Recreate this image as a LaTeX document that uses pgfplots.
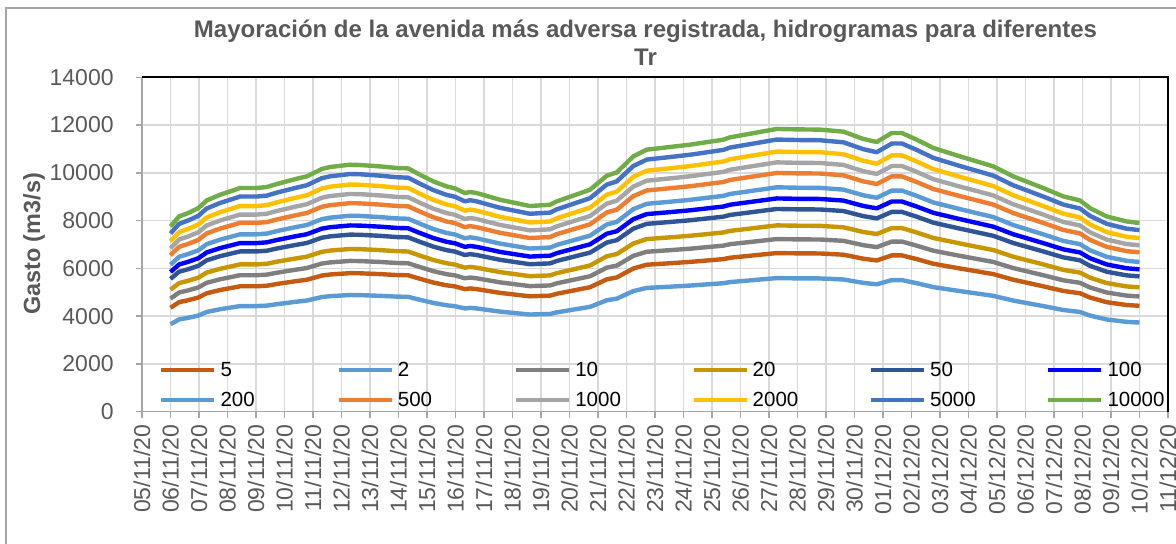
\documentclass[border=0pt]{standalone}
\usepackage{pgfplots}
\pgfplotsset{compat=1.18}
\usepackage{pgfplotstable}
\usepackage{fontspec}
\setmainfont{Liberation Sans}
\definecolor{c5}{RGB}{197,90,17}
\definecolor{c2}{RGB}{91,155,213}
\definecolor{c10}{RGB}{127,127,127}
\definecolor{c20}{RGB}{200,150,0}
\definecolor{c50}{RGB}{47,85,151}
\definecolor{c100}{RGB}{0,0,255}
\definecolor{c200}{RGB}{91,155,213}
\definecolor{c500}{RGB}{237,125,49}
\definecolor{c1000}{RGB}{165,165,165}
\definecolor{c2000}{RGB}{255,192,0}
\definecolor{c5000}{RGB}{68,114,196}
\definecolor{c10000}{RGB}{112,173,71}
\definecolor{txtgray}{RGB}{89,89,89}
\definecolor{gridgray}{RGB}{217,217,217}
\definecolor{axisgray}{RGB}{166,166,166}

\pgfplotstableread{
d T2 T5 T10 T20 T50 T100 T200 T500 T1000 T2000 T5000 T10000
1.00 3660 4347 4731 5106 5557 5846 6150 6545 6834 7130 7460 7753
1.30 3858 4582 4987 5382 5857 6162 6482 6899 7204 7516 7863 8172
1.62 3928 4665 5077 5480 5963 6273 6600 7024 7334 7652 8005 8315
1.98 4022 4777 5199 5611 6106 6424 6758 7193 7510 7836 8198 8524
2.27 4173 4957 5394 5822 6336 6665 7012 7463 7793 8130 8506 8843
2.74 4287 5091 5541 5980 6508 6846 7202 7665 8004 8351 8737 9082
3.09 4353 5170 5626 6072 6608 6952 7313 7784 8127 8480 8871 9220
3.44 4419 5248 5712 6165 6708 7057 7424 7902 8251 8608 9006 9363
4.02 4419 5248 5712 6165 6708 7057 7424 7902 8251 8608 9006 9363
4.38 4438 5271 5736 6191 6737 7088 7456 7936 8286 8645 9045 9405
4.73 4499 5344 5815 6277 6830 7186 7559 8045 8401 8765 9170 9531
5.43 4603 5467 5949 6421 6988 7352 7734 8231 8595 8967 9381 9753
5.78 4650 5523 6011 6487 7060 7427 7813 8315 8683 9059 9478 9849
6.31 4797 5697 6200 6691 7282 7661 8059 8577 8956 9344 9776 10160
6.60 4834 5742 6248 6744 7339 7721 8122 8645 9027 9418 9853 10244
7.30 4882 5798 6310 6810 7411 7796 8202 8729 9115 9510 9949 10340
7.65 4877 5792 6303 6803 7404 7789 8194 8721 9106 9501 9940 10327
8.35 4848 5758 6267 6764 7361 7744 8146 8670 9053 9445 9882 10269
8.94 4815 5719 6224 6718 7310 7691 8091 8611 8991 9381 9814 10202
9.34 4806 5708 6212 6705 7296 7676 8075 8594 8974 9363 9795 10185
9.75 4683 5562 6053 6533 7110 7480 7869 8375 8745 9123 9545 9921
10.22 4551 5405 5882 6349 6909 7269 7646 8138 8498 8866 9276 9640
10.69 4452 5287 5754 6211 6759 7110 7480 7961 8313 8673 9074 9430
10.98 4414 5243 5705 6158 6701 7050 7417 7893 8242 8599 8997 9346
11.33 4320 5130 5583 6026 6558 6899 7258 7724 8066 8415 8804 9153
11.51 4343 5158 5614 6059 6594 6937 7297 7767 8110 8461 8852 9195
11.74 4320 5130 5583 6026 6558 6899 7258 7724 8066 8415 8804 9153
12.56 4188 4973 5413 5842 6357 6688 7036 7488 7819 8158 8535 8873
13.61 4065 4828 5254 5671 6171 6492 6829 7269 7590 7919 8285 8608
14.32 4088 4856 5284 5704 6207 6530 6869 7311 7634 7965 8333 8663
14.55 4155 4934 5370 5796 6307 6635 6980 7429 7757 8093 8467 8801
15.72 4386 5209 5669 6118 6658 7005 7369 7843 8189 8544 8939 9292
16.31 4664 5540 6029 6507 7081 7450 7837 8341 8709 9087 9507 9879
16.66 4730 5618 6114 6599 7181 7555 7948 8459 8833 9215 9641 10017
17.24 5047 5994 6523 7041 7662 8060 8479 9025 9423 9832 10286 10688
17.71 5179 6151 6694 7225 7862 8271 8701 9261 9670 10089 10555 10969
18.53 5231 6213 6761 7297 7941 8354 8789 9354 9767 10190 10661 11082
19.23 5278 6269 6822 7363 8013 8430 8868 9438 9855 10282 10757 11179
20.40 5377 6386 6950 7502 8163 8588 9035 9616 10040 10475 10960 11388
20.63 5424 6443 7011 7567 8235 8664 9114 9700 10128 10567 11056 11485
21.80 5543 6583 7164 7732 8414 8852 9312 9911 10349 10797 11296 11736
22.27 5590 6639 7225 7798 8486 8927 9392 9995 10437 10889 11393 11837
22.97 5580 6628 7213 7785 8471 8912 9376 9979 10419 10871 11373 11820
23.79 5576 6622 7207 7778 8464 8905 9368 9970 10411 10862 11364 11808
24.61 5533 6571 7152 7719 8400 8837 9296 9894 10331 10779 11277 11724
25.31 5391 6403 6969 7521 8185 8611 9058 9641 10067 10503 10988 11418
25.78 5330 6330 6889 7436 8092 8513 8955 9531 9952 10383 10863 11292
26.31 5509 6543 7121 7686 8364 8799 9257 9852 10287 10733 11229 11669
26.66 5509 6543 7121 7686 8364 8799 9257 9852 10287 10733 11229 11669
27.18 5377 6386 6950 7502 8163 8588 9035 9616 10040 10475 10960 11388
27.77 5212 6190 6737 7271 7912 8324 8757 9320 9732 10154 10623 11040
28.70 5047 5994 6523 7041 7662 8060 8479 9025 9423 9832 10286 10688
29.87 4848 5758 6267 6764 7361 7744 8146 8670 9053 9445 9882 10269
30.57 4650 5523 6011 6487 7060 7427 7813 8315 8683 9059 9478 9849
31.62 4419 5248 5712 6165 6708 7057 7424 7902 8251 8608 9006 9363
32.33 4254 5052 5498 5934 6458 6794 7147 7606 7942 8287 8669 9011
32.91 4173 4957 5394 5822 6336 6665 7012 7463 7793 8130 8506 8843
33.26 4022 4777 5199 5611 6106 6424 6758 7193 7510 7836 8198 8524
33.85 3858 4582 4987 5382 5857 6162 6482 6899 7204 7516 7863 8172
34.55 3758 4463 4857 5242 5705 6002 6314 6720 7017 7321 7659 7963
35.00 3730 4430 4821 5203 5662 5957 6266 6669 6964 7266 7601 7896
}\datatable

\begin{document}
\begin{tikzpicture}
\useasboundingbox (0,0) rectangle (588pt,-272pt);
\draw[color=axisgray, line width=0.7pt] (3pt,-272pt) -- (3pt,-4pt) -- (588pt,-4pt);
\begin{axis}[
  scale only axis, width=513pt, height=167.15pt,
  at={(71pt,-205.8pt)}, anchor=south west,
  xmin=0, xmax=36, ymin=0, ymax=14000,
  xtick={0,...,36},
  xticklabels={05/11/20,06/11/20,07/11/20,08/11/20,09/11/20,10/11/20,11/11/20,12/11/20,13/11/20,14/11/20,15/11/20,16/11/20,17/11/20,18/11/20,19/11/20,20/11/20,21/11/20,22/11/20,23/11/20,24/11/20,25/11/20,26/11/20,27/11/20,28/11/20,29/11/20,30/11/20,01/12/20,02/12/20,03/12/20,04/12/20,05/12/20,06/12/20,07/12/20,08/12/20,09/12/20,10/12/20,11/12/20},
  ytick={0,2000,...,14000},
  scaled y ticks=false,
  tick pos=left,
  axis line style={draw=none},
  grid=major,
  major grid style={draw=gridgray, line width=0.75pt},
  tick align=outside, major tick length=3pt,
  tick style={draw=axisgray, line width=0.7pt},
  tick label style={font=\fontsize{11.5}{13}\selectfont, text=txtgray},
  xticklabel style={yshift=-3.5pt, rotate=90, anchor=east, inner sep=0pt},
  yticklabel style={anchor=east, inner sep=0pt, xshift=-11pt},
  /pgf/number format/1000 sep={},
  /pgf/number format/assume math mode=true,
  clip mode=individual,
  legend columns=6,
  legend image code/.code={\draw[#1,line width=2.2pt] (0pt,0pt) -- (26.5pt,0pt);},
  legend style={draw=none, fill=none, at={(0.0163,0.155)}, anchor=north west,
    inner sep=0pt, font=\fontsize{10.25}{12}\selectfont,
    nodes={inner sep=0pt, text width=56pt, text height=8pt, text depth=2pt},
    row sep=5pt,
    /tikz/every odd column/.append style={column sep=2pt},
    /tikz/every even column/.append style={column sep=2pt}},
  every axis plot/.append style={line width=2.2pt, line join=round},
]
\addplot[c5] table[x=d,y=T5]{\datatable}; \addlegendentry{5}
\addplot[c2] table[x=d,y=T2]{\datatable}; \addlegendentry{2}
\addplot[c10] table[x=d,y=T10]{\datatable}; \addlegendentry{10}
\addplot[c20] table[x=d,y=T20]{\datatable}; \addlegendentry{20}
\addplot[c50] table[x=d,y=T50]{\datatable}; \addlegendentry{50}
\addplot[c100] table[x=d,y=T100]{\datatable}; \addlegendentry{100}
\addplot[c200] table[x=d,y=T200]{\datatable}; \addlegendentry{200}
\addplot[c500] table[x=d,y=T500]{\datatable}; \addlegendentry{500}
\addplot[c1000] table[x=d,y=T1000]{\datatable}; \addlegendentry{1000}
\addplot[c2000] table[x=d,y=T2000]{\datatable}; \addlegendentry{2000}
\addplot[c5000] table[x=d,y=T5000]{\datatable}; \addlegendentry{5000}
\addplot[c10000] table[x=d,y=T10000]{\datatable}; \addlegendentry{10000}
\draw[axisgray, line width=0.7pt] (rel axis cs:0,1) -- (rel axis cs:0,0) -- (rel axis cs:1,0);
\draw[black, line width=0.8pt] (rel axis cs:0,1) -- (rel axis cs:1,1) -- (rel axis cs:1,0);
\end{axis}
\node[anchor=base, font=\bfseries\fontsize{12}{14}\selectfont, text=txtgray] at (322.75pt,-18.65pt) {Mayoración de la avenida más adversa registrada, hidrogramas para diferentes};
\node[anchor=base, font=\bfseries\fontsize{12}{14}\selectfont, text=txtgray] at (322.75pt,-33pt) {Tr};
\node[rotate=90, font=\bfseries\fontsize{11.7}{13}\selectfont, text=txtgray] at (17pt,-122pt) {Gasto (m3/s)};
\end{tikzpicture}
\end{document}
